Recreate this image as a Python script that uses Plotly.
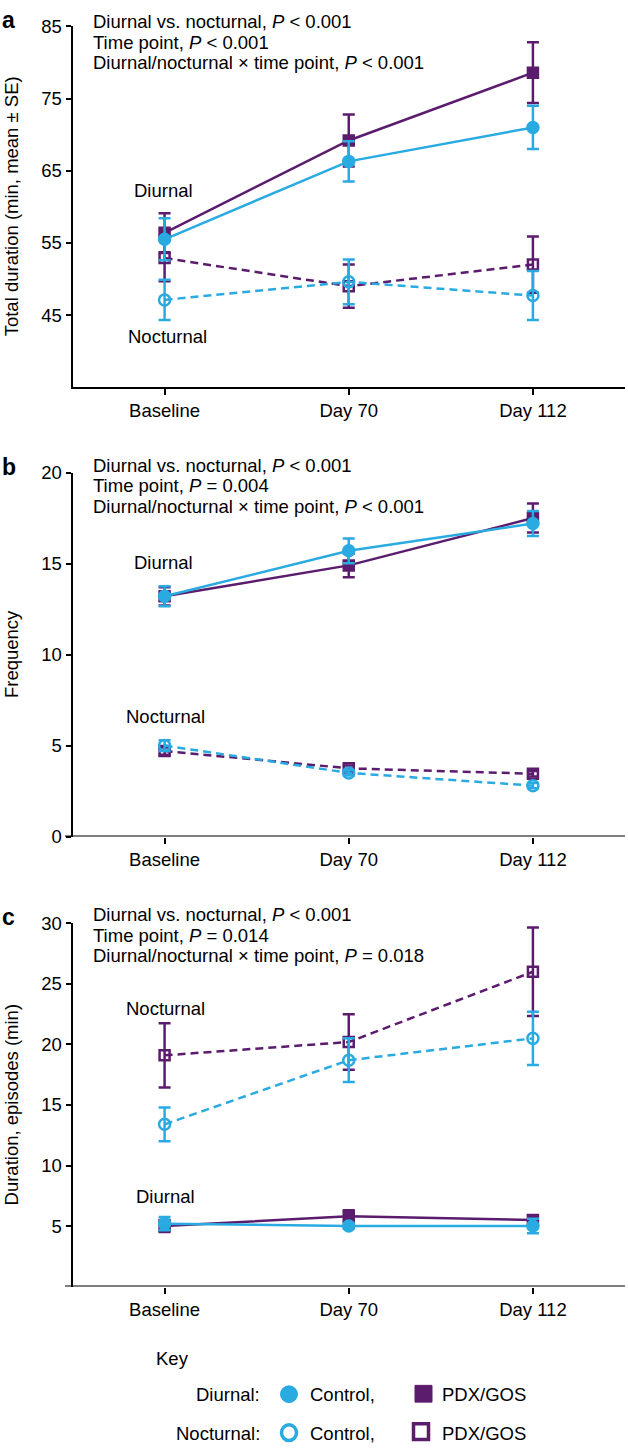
import plotly.graph_objects as go

W, H = 628, 1454
CYAN = "#29ABE2"
PURPLE = "#5B1C6E"
FONT = "Liberation Sans, Arial, Helvetica, sans-serif"

categories = ["Baseline", "Day 70", "Day 112"]

# Panel a: total duration (min, mean ± SE)
a_diurnal_control = [55.5, 66.3, 71.0]
a_diurnal_control_se = [2.9, 2.8, 3.0]
a_diurnal_pdx = [56.4, 69.2, 78.6]
a_diurnal_pdx_se = [2.7, 3.6, 4.2]
a_nocturnal_control = [47.1, 49.6, 47.7]
a_nocturnal_control_se = [2.8, 3.1, 3.4]
a_nocturnal_pdx = [52.9, 49.0, 52.0]
a_nocturnal_pdx_se = [3.2, 3.0, 3.9]

# Panel b: frequency
b_diurnal_control = [13.2, 15.7, 17.2]
b_diurnal_control_se = [0.55, 0.68, 0.69]
b_diurnal_pdx = [13.2, 14.9, 17.5]
b_diurnal_pdx_se = [0.5, 0.65, 0.8]
b_nocturnal_control = [5.0, 3.5, 2.8]
b_nocturnal_control_se = [0.3, 0.15, 0.15]
b_nocturnal_pdx = [4.7, 3.75, 3.45]
b_nocturnal_pdx_se = [0.2, 0.15, 0.15]

# Panel c: duration of episodes (min)
c_diurnal_control = [5.2, 5.0, 5.0]
c_diurnal_control_se = [0.55, 0.2, 0.6]
c_diurnal_pdx = [5.0, 5.8, 5.5]
c_diurnal_pdx_se = [0.5, 0.5, 0.4]
c_nocturnal_control = [13.4, 18.7, 20.5]
c_nocturnal_control_se = [1.4, 1.8, 2.2]
c_nocturnal_pdx = [19.1, 20.2, 26.0]
c_nocturnal_pdx_se = [2.65, 2.3, 3.65]

panel_letters = ["a", "b", "c"]
stats_lines = [
    ["Diurnal vs. nocturnal, <i>P</i> < 0.001", "Time point, <i>P</i> < 0.001",
     "Diurnal/nocturnal × time point, <i>P</i> < 0.001"],
    ["Diurnal vs. nocturnal, <i>P</i> < 0.001", "Time point, <i>P</i> = 0.004",
     "Diurnal/nocturnal × time point, <i>P</i> < 0.001"],
    ["Diurnal vs. nocturnal, <i>P</i> < 0.001", "Time point, <i>P</i> = 0.014",
     "Diurnal/nocturnal × time point, <i>P</i> = 0.018"],
]
y_titles = ["Total duration (min, mean ± SE)", "Frequency", "Duration, episodes (min)"]
y_ticks = [[45, 55, 65, 75, 85], [0, 5, 10, 15, 20], [5, 10, 15, 20, 25, 30]]
y_ranges = [[35, 85], [0, 20], [0, 30]]


def px(x):
    return x / W


def py(y):
    return 1 - y / H


# pixel layout of panels (top, bottom) of the plotting area
panel_px = [(15.7, 381.7), (468.3, 837.7), (925.7, 1294.3)]
x_left, x_right = 72.5, 625.0

fig = go.Figure()

panels = [
    (a_diurnal_control, a_diurnal_control_se, a_diurnal_pdx, a_diurnal_pdx_se,
     a_nocturnal_control, a_nocturnal_control_se, a_nocturnal_pdx, a_nocturnal_pdx_se),
    (b_diurnal_control, b_diurnal_control_se, b_diurnal_pdx, b_diurnal_pdx_se,
     b_nocturnal_control, b_nocturnal_control_se, b_nocturnal_pdx, b_nocturnal_pdx_se),
    (c_diurnal_control, c_diurnal_control_se, c_diurnal_pdx, c_diurnal_pdx_se,
     c_nocturnal_control, c_nocturnal_control_se, c_nocturnal_pdx, c_nocturnal_pdx_se),
]

xpos = list(range(len(categories)))

for i, p in enumerate(panels):
    dc, dcs, dp, dps, nc, ncs, npd, nps = p
    xa = "x" if i == 0 else f"x{i+1}"
    ya = "y" if i == 0 else f"y{i+1}"
    series = [
        (npd, nps, PURPLE, "square-open", "dash", 10),
        (nc, ncs, CYAN, "circle-open", "dash", 11),
        (dp, dps, PURPLE, "square", "solid", 10),
        (dc, dcs, CYAN, "circle", "solid", 11),
    ]
    for vals, se, col, sym, dash, ms in series:
        fig.add_trace(go.Scatter(
            x=xpos, y=vals, xaxis=xa, yaxis=ya, mode="lines+markers",
            line=dict(color=col, width=2.5, dash="8px,5px" if dash == "dash" else "solid"),
            marker=dict(symbol=sym, size=ms, color=col, line=dict(color=col, width=2.5)),
            error_y=dict(type="data", array=se, visible=True, color=col, thickness=2.5, width=6),
            showlegend=False, hoverinfo="skip",
        ))

layout = dict(
    width=W, height=H, margin=dict(l=0, r=0, t=0, b=0),
    paper_bgcolor="white", plot_bgcolor="white", showlegend=False,
    font=dict(family=FONT, size=18.5, color="black"),
)

annotations = []
shapes = []
for i in range(3):
    sfx = "" if i == 0 else str(i + 1)
    top, bot = panel_px[i]
    layout["xaxis" + sfx] = dict(
        domain=[px(x_left), px(x_right)], range=[-0.5, 2.5], anchor="y" + sfx,
        tickvals=xpos, ticktext=categories, ticks="outside", ticklen=6, tickwidth=1.5,
        tickcolor="black", showline=(i == 0), linecolor="black", linewidth=2,
        showgrid=False, zeroline=False, tickfont=dict(size=18.5),
    )
    layout["yaxis" + sfx] = dict(
        domain=[py(bot), py(top)], range=y_ranges[i], anchor="x" + sfx,
        tickvals=y_ticks[i], ticks="outside", ticklen=5, tickwidth=1.5, tickcolor="black",
        showline=True, linecolor="black", linewidth=2, showgrid=False, zeroline=False,
        tickfont=dict(size=18.5),
    )
    if i > 0:
        shapes.append(dict(type="line", xref="paper", yref="y" + sfx,
                           x0=px(65), x1=px(x_right), y0=y_ranges[i][0], y1=y_ranges[i][0],
                           line=dict(color="black", width=2)))
    # y title
    annotations.append(dict(text=y_titles[i], xref="paper", yref="paper",
                            x=px(11.5), y=py((top + bot) / 2), textangle=-90,
                            showarrow=False, xanchor="center", yanchor="middle",
                            font=dict(size=18.5)))

# panel letters
letter_y = [9.5, 463, 919]
for letter, ly in zip(panel_letters, letter_y):
    annotations.append(dict(text=f"<b>{letter}</b>", xref="paper", yref="paper",
                            x=px(0), y=py(ly), xanchor="left", yanchor="middle",
                            showarrow=False, font=dict(size=23)))

# stats lines
stats_y = [[10.8, 31.6, 52.4], [460.8, 481.6, 502.4], [916.8, 937.6, 958.4]]
for lines, ys in zip(stats_lines, stats_y):
    for t, yy in zip(lines, ys):
        annotations.append(dict(text=t, xref="paper", yref="paper", x=px(90.7), y=py(yy),
                                xanchor="left", yanchor="middle", showarrow=False,
                                font=dict(size=18.5)))

# group labels inside panels
group_labels = [("Diurnal", 163, 182), ("Nocturnal", 167, 330.5),
                ("Diurnal", 163, 560), ("Nocturnal", 165, 716),
                ("Nocturnal", 165, 1012.5), ("Diurnal", 165, 1203)]
for t, gx, gy in group_labels:
    annotations.append(dict(text=t, xref="paper", yref="paper", x=px(gx), y=py(gy),
                            xanchor="center", yanchor="middle", showarrow=False,
                            font=dict(size=18.5)))

# key
annotations.append(dict(text="Key", xref="paper", yref="paper", x=px(172), y=py(1367.5),
                        xanchor="center", yanchor="middle", showarrow=False, font=dict(size=18.5)))
for lab, yy in [("Diurnal:", 1404), ("Nocturnal:", 1443)]:
    annotations.append(dict(text=lab, xref="paper", yref="paper", x=px(262), y=py(yy),
                            xanchor="right", yanchor="middle", showarrow=False, font=dict(size=18.5)))
    annotations.append(dict(text="Control,", xref="paper", yref="paper", x=px(308), y=py(yy),
                            xanchor="left", yanchor="middle", showarrow=False, font=dict(size=18.5)))
    annotations.append(dict(text="PDX/GOS", xref="paper", yref="paper", x=px(440), y=py(yy),
                            xanchor="left", yanchor="middle", showarrow=False, font=dict(size=18.5)))

# key symbols
shapes.append(dict(type="circle", xref="paper", yref="paper", x0=px(280.5), x1=px(297.5),
                   y0=py(1412), y1=py(1395), fillcolor=CYAN, line=dict(color=CYAN, width=1)))
shapes.append(dict(type="rect", xref="paper", yref="paper", x0=px(415), x1=px(432),
                   y0=py(1411.5), y1=py(1394.5), fillcolor=PURPLE, line=dict(color=PURPLE, width=1)))
shapes.append(dict(type="circle", xref="paper", yref="paper", x0=px(281.5), x1=px(296.5),
                   y0=py(1450.5), y1=py(1434.5), fillcolor="white", line=dict(color=CYAN, width=3.5)))
shapes.append(dict(type="rect", xref="paper", yref="paper", x0=px(413.5), x1=px(428.5),
                   y0=py(1449.5), y1=py(1433.5), fillcolor="white", line=dict(color=PURPLE, width=3.5)))

layout["annotations"] = annotations
layout["shapes"] = shapes
fig.update_layout(**layout)
fig.write_html("out.html", config={"displayModeBar": False},
               post_script="document.body.style.margin='0';document.body.style.overflow='hidden';")
